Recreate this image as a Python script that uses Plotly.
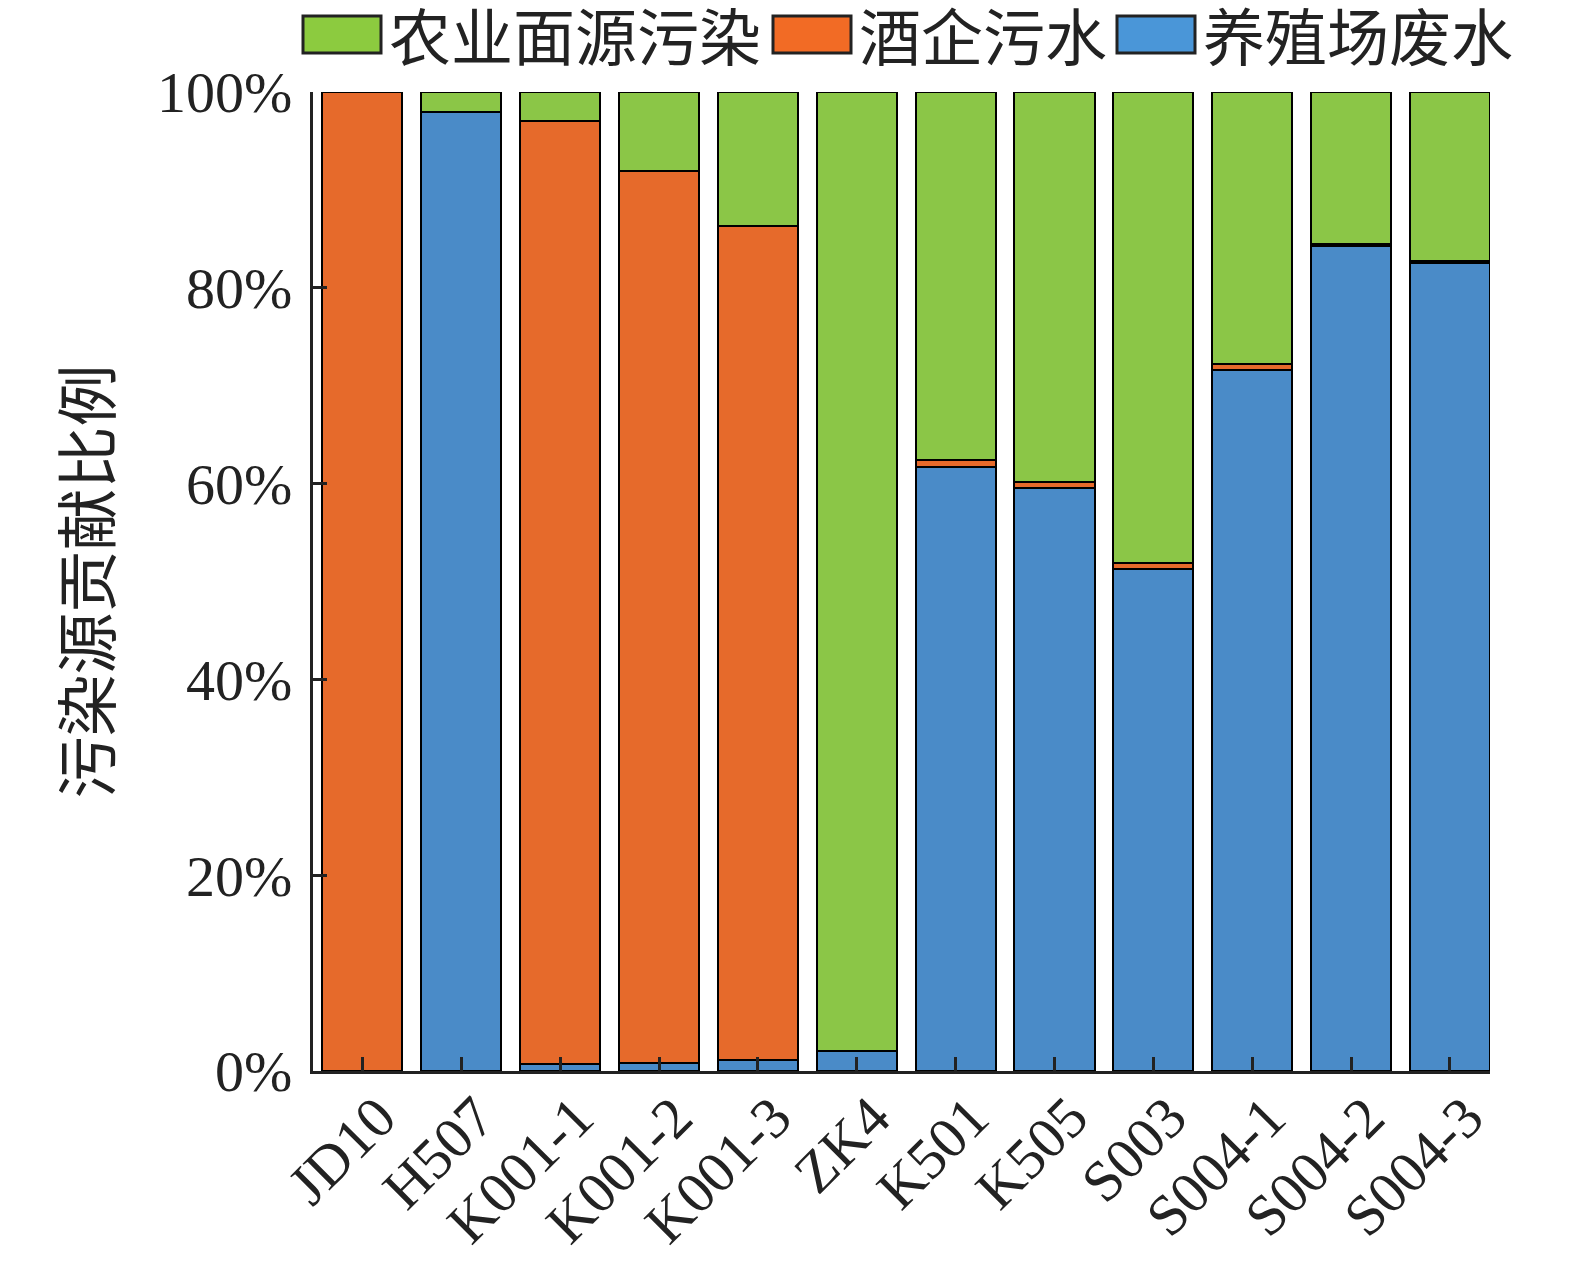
import plotly.graph_objects as go

# 站点
sites = ["JD10", "H507", "K001-1", "K001-2", "K001-3", "ZK4",
         "K501", "K505", "S003", "S004-1", "S004-2", "S004-3"]

# 各污染源贡献比例 (%)
yangzhi = [0.0, 98.0, 0.7, 0.8, 1.1, 2.0, 61.7, 59.6, 51.3, 71.6, 84.3, 82.5]
jiuqi = [100.0, 0.0, 96.3, 91.1, 85.2, 0.0, 0.7, 0.6, 0.6, 0.6, 0.2, 0.2]
nongye = [0.0, 2.0, 3.0, 8.1, 13.7, 98.0, 37.6, 39.8, 48.1, 27.8, 15.5, 17.3]

yticks = [0, 20, 40, 60, 80, 100]
ytick_text = ["0%", "20%", "40%", "60%", "80%", "100%"]

names = ["农业面源污染", "酒企污水", "养殖场废水"]
colors = ["#8BC647", "#E66A2B", "#4A8BC8"]
legend_colors = ["#8CCB3F", "#F26B25", "#4A96D8"]

W, H = 1575, 1266
L, R, T, B = 313, 85, 92, 195

fig = go.Figure()
for vals, name, col in [(yangzhi, names[2], colors[2]),
                        (jiuqi, names[1], colors[1]),
                        (nongye, names[0], colors[0])]:
    fig.add_trace(go.Bar(x=sites, y=vals, name=name, showlegend=False,
                         marker=dict(color=col, line=dict(color="black", width=2))))

# 手动画图例 (大方块), 坐标按像素换算
X0, X1, Y0, Y1 = L, W - R, T, H - B
def px(x):
    return (x - X0) / (X1 - X0)
def py(y):
    return (Y1 - y) / (Y1 - Y0)

leg_x = [303, 773, 1117]
for i in range(3):
    fig.add_shape(type="rect", xref="paper", yref="paper",
                  x0=px(leg_x[i]), x1=px(leg_x[i] + 78), y0=py(53), y1=py(16),
                  fillcolor=legend_colors[i], line=dict(color="#222", width=3))
    fig.add_annotation(xref="paper", yref="paper", x=px(leg_x[i] + 84), y=py(34),
                       text=names[i], showarrow=False, xanchor="left", yanchor="middle",
                       font=dict(family="Noto Sans CJK SC", size=62, color="#222"))

fig.update_layout(
    barmode="stack", bargap=0.19,
    width=W, height=H,
    margin=dict(l=L, r=R, t=T, b=B),
    plot_bgcolor="white", paper_bgcolor="white",
    font=dict(family="Liberation Serif", size=58, color="#222"),
)
fig.update_xaxes(range=[-0.5, 11.405], showline=True, linecolor="#222", linewidth=3,
                 automargin=False,
                 ticks="inside", ticklen=14, tickwidth=3, tickcolor="#222",
                 tickangle=-45, ticklabelshift=16, ticklabelstandoff=-14,
                 tickfont=dict(family="Liberation Serif", size=58))
fig.update_yaxes(range=[0, 100], tickvals=yticks, ticktext=ytick_text,
                 showline=True, linecolor="#222", linewidth=3, showgrid=False,
                 zeroline=False, automargin=False,
                 ticks="inside", ticklen=14, tickwidth=3, tickcolor="#222",
                 ticklabelstandoff=6,
                 tickfont=dict(family="Liberation Serif", size=58),
                 title=dict(text="污染源贡献比例", standoff=26,
                            font=dict(family="Noto Sans CJK SC", size=62, color="#222")))

fig.write_html("out.html", config={"displayModeBar": False},
               post_script="document.body.style.margin='0';")
